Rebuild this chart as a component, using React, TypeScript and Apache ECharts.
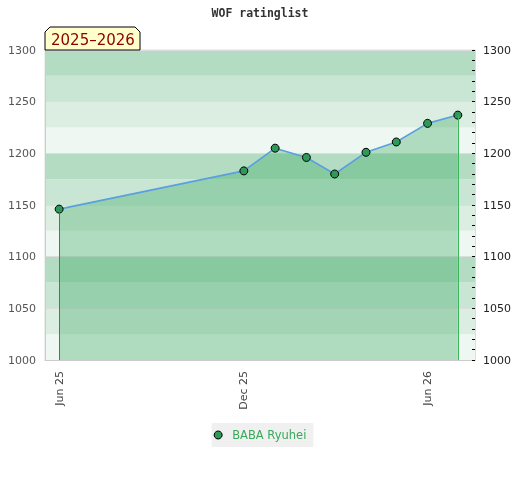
import React, { useEffect, useRef } from "react";
import * as echarts from "echarts";

const dates = [
  "2025-06-01",
  "2025-12-01",
  "2026-01-01",
  "2026-02-01",
  "2026-03-01",
  "2026-04-01",
  "2026-05-01",
  "2026-06-01",
  "2026-07-01",
];
const ratings = [1146, 1183, 1205, 1196, 1180, 1201, 1211, 1229, 1237];
const tickDates = ["2025-06-01", "2025-12-01", "2026-06-01"];
const tickLabels = ["Jun 25", "Dec 25", "Jun 26"];
const xMin = "2025-05-18";
const xMax = "2026-07-18";
const seriesName = "BABA Ryuhei";
const seasonLabel = "2025\u20132026";
const titleText = "WOF ratinglist";

const ts = (d: string) => Date.parse(d + "T00:00:00Z");

export default function App() {
  const ref = useRef<HTMLDivElement>(null);
  useEffect(() => {
    if (!ref.current) return;
    const chart = echarts.init(ref.current, undefined, { renderer: "svg" });
    const tickTs = tickDates.map(ts);
    const data = dates.map((d, i) => [ts(d), ratings[i]]);
    const first = data[0];
    const last = data[data.length - 1];
    chart.setOption({
      animation: false,
      textStyle: { fontFamily: "DejaVu Sans" },
      title: {
        text: titleText,
        left: "center",
        top: 2,
        textStyle: {
          fontFamily: "DejaVu Sans Mono",
          fontWeight: "bold",
          fontSize: 11.5,
          color: "#333",
        },
      },
      grid: {
        left: 45,
        right: 45,
        top: 50,
        bottom: 120,
        show: true,
        borderColor: "#ddd",
        borderWidth: 1,
        backgroundColor: "transparent",
      },
      legend: {
        bottom: 33,
        left: "center",
        data: [{ name: seriesName, icon: "circle" }],
        backgroundColor: "#f0f0f0",
        padding: [6, 7, 6, 2],
        itemWidth: 18,
        itemHeight: 8,
        itemStyle: { color: "#2e9a5a", borderColor: "#000", borderWidth: 1 },
        textStyle: { color: "#3aa85a", fontSize: 11.5, fontFamily: "DejaVu Sans" },
      },
      xAxis: {
        type: "value",
        min: ts(xMin),
        max: ts(xMax),
        axisLine: { show: true, lineStyle: { color: "#ccc", width: 1 } },
        axisTick: { show: false },
        splitLine: { show: false },
        axisLabel: {
          customValues: tickTs,
          rotate: 90,
          margin: 11,
          fontSize: 11,
          color: "#444",
          formatter: (v: number) => {
            const i = tickTs.indexOf(v);
            return i >= 0 ? tickLabels[i] : "";
          },
        },
      },
      yAxis: [
        {
          type: "value",
          min: 1000,
          max: 1300,
          interval: 25,
          position: "left",
          axisLine: { show: false },
          axisTick: { show: false },
          axisLabel: { show: false },
          splitLine: { show: false },
          splitArea: {
            show: true,
            areaStyle: { color: ["#eef7f1", "#dcede2", "#c9e5d4", "#b3dcc2"] },
          },
        },
        {
          type: "value",
          min: 1000,
          max: 1300,
          interval: 50,
          position: "left",
          axisLine: { show: true, lineStyle: { color: "#ccc", width: 1 } },
          axisTick: { show: false },
          axisLabel: {
            fontSize: 11,
            color: "#555",
            margin: 9,
            formatter: (v: number) => String(v),
          },
          splitLine: { show: true, lineStyle: { color: "#ddd", width: 1 } },
        },
        {
          type: "value",
          min: 1000,
          max: 1300,
          interval: 10,
          position: "right",
          axisLine: { show: true, lineStyle: { color: "#ddd", width: 1 } },
          axisTick: { show: true, inside: true, length: 3, lineStyle: { color: "#000" } },
          axisLabel: {
            fontSize: 11,
            color: "#222",
            margin: 8,
            formatter: (v: number) => (v % 50 === 0 ? String(v) : ""),
          },
          splitLine: { show: false },
        },
      ],
      series: [
        {
          name: seriesName,
          type: "line",
          yAxisIndex: 1,
          data,
          symbol: "circle",
          symbolSize: 8,
          itemStyle: { color: "#2e9a5a", borderColor: "#000", borderWidth: 1 },
          lineStyle: { color: "#5a9fe0", width: 1.6 },
          areaStyle: { color: "rgba(58,168,96,0.5)", origin: "start" },
          markLine: {
            silent: true,
            symbol: "none",
            label: { show: false },
            data: [
              [
                { coord: [first[0], 1000], lineStyle: { color: "#338a50", width: 1, type: "solid" } },
                { coord: [first[0], first[1]] },
              ],
              [
                { coord: [last[0], 1000], lineStyle: { color: "#3cb55c", width: 1, type: "solid" } },
                { coord: [last[0], last[1]] },
              ],
            ],
          },
        },
      ],
      graphic: [
        {
          type: "polygon",
          shape: {
            points: [
              [45, 50],
              [45, 32],
              [50, 27],
              [135, 27],
              [140, 32],
              [140, 50],
            ],
          },
          style: { fill: "#ffffcc", stroke: "#000", lineWidth: 1 },
          z: 10,
        },
        {
          type: "text",
          x: 51,
          y: 40,
          style: {
            text: seasonLabel,
            fill: "#8b0000",
            font: "15px 'DejaVu Sans'",
            verticalAlign: "middle",
          },
          z: 11,
        },
      ],
    });
    return () => chart.dispose();
  }, []);
  return (
    <div
      ref={ref}
      style={{ position: "fixed", left: 0, top: 0, width: 520, height: 480 }}
    />
  );
}
